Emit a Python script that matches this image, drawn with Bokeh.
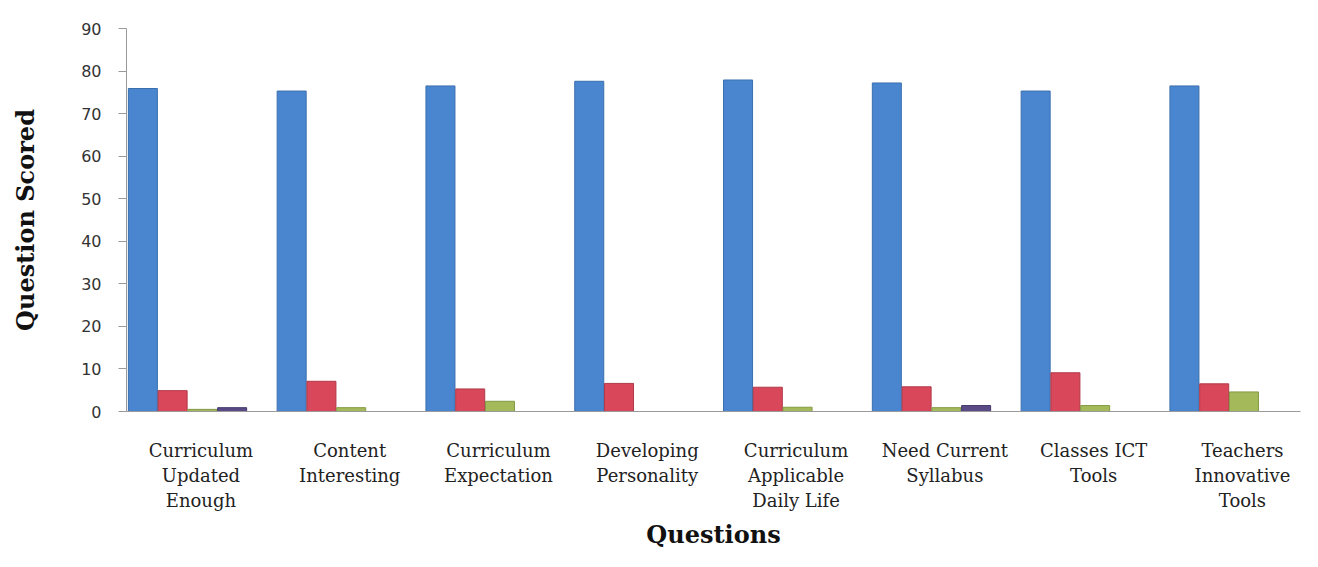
from bokeh.plotting import figure
from bokeh.models import ColumnDataSource, Range1d, FixedTicker
from bokeh.transform import dodge
from bokeh.embed import file_html
from bokeh.resources import INLINE

categories = [
    "Curriculum\nUpdated\nEnough",
    "Content\nInteresting",
    "Curriculum\nExpectation",
    "Developing\nPersonality",
    "Curriculum\nApplicable\nDaily Life",
    "Need Current\nSyllabus",
    "Classes ICT\nTools",
    "Teachers\nInnovative\nTools",
]
series1 = [75.9, 75.3, 76.5, 77.6, 77.9, 77.2, 75.3, 76.5]
series2 = [4.9, 7.1, 5.3, 6.6, 5.7, 5.8, 9.1, 6.5]
series3 = [0.5, 0.9, 2.4, 0.0, 1.0, 0.9, 1.4, 4.6]
series4 = [0.9, 0.0, 0.0, 0.0, 0.0, 1.4, 0.0, 0.0]

centers = [i + 0.5 for i in range(len(categories))]
source = ColumnDataSource(dict(x=centers, s1=series1, s2=series2, s3=series3, s4=series4))

p = figure(
    x_range=Range1d(0, 7.89),
    y_range=Range1d(0, 90),
    width=1302, height=551,
    output_backend="svg", toolbar_location=None,
    min_border_left=126, min_border_right=2, min_border_top=28, min_border_bottom=140,
)

colors = ["#4a86cf", "#d9485a", "#a3b95a", "#5a4a86"]
lines = ["#3a6fae", "#b03848", "#849a45", "#463a6c"]
offsets = [-0.39, -0.19, 0.01, 0.21]
for key, off, c, lc in zip(["s1", "s2", "s3", "s4"], offsets, colors, lines):
    p.vbar(x=dodge("x", off), top=key, width=0.195, bottom=0,
           source=source, fill_color=c, line_color=lc, line_width=1)

p.xgrid.grid_line_color = None
p.ygrid.grid_line_color = None
p.outline_line_color = None
p.background_fill_color = "white"

p.yaxis.ticker = list(range(0, 91, 10))
p.yaxis.axis_line_color = "#9a9a9a"
p.yaxis.major_tick_line_color = "#9a9a9a"
p.yaxis.major_tick_in = 0
p.yaxis.major_tick_out = 8
p.yaxis.minor_tick_line_color = None
p.yaxis.major_label_text_font = "DejaVu Sans"
p.yaxis.major_label_text_font_size = "16px"
p.yaxis.major_label_text_color = "#333333"
p.yaxis.major_label_standoff = 17
p.yaxis.axis_label = "Question Scored"
p.yaxis.axis_label_text_font = "DejaVu Serif"
p.yaxis.axis_label_text_font_style = "bold"
p.yaxis.axis_label_text_font_size = "24px"
p.yaxis.axis_label_text_color = "#111111"
p.yaxis.axis_label_standoff = 38

p.xaxis.ticker = FixedTicker(ticks=centers)
p.xaxis.major_label_overrides = {c: lab for c, lab in zip(centers, categories)}
p.xaxis.axis_line_color = "#9a9a9a"
p.xaxis.major_tick_line_color = None
p.xaxis.minor_tick_line_color = None
p.xaxis.major_label_text_font = "DejaVu Serif"
p.xaxis.major_label_text_font_size = "18px"
p.xaxis.major_label_text_line_height = 1.2
p.xaxis.major_label_text_color = "#222222"
p.xaxis.major_label_standoff = 22
p.xaxis.major_label_orientation = "horizontal"
p.xaxis.axis_label = "Questions"
p.xaxis.axis_label_text_font = "DejaVu Serif"
p.xaxis.axis_label_text_font_style = "bold"
p.xaxis.axis_label_text_font_size = "24px"
p.xaxis.axis_label_text_color = "#111111"
p.xaxis.axis_label_standoff = 6

open("out.html", "w").write(file_html(p, INLINE))
